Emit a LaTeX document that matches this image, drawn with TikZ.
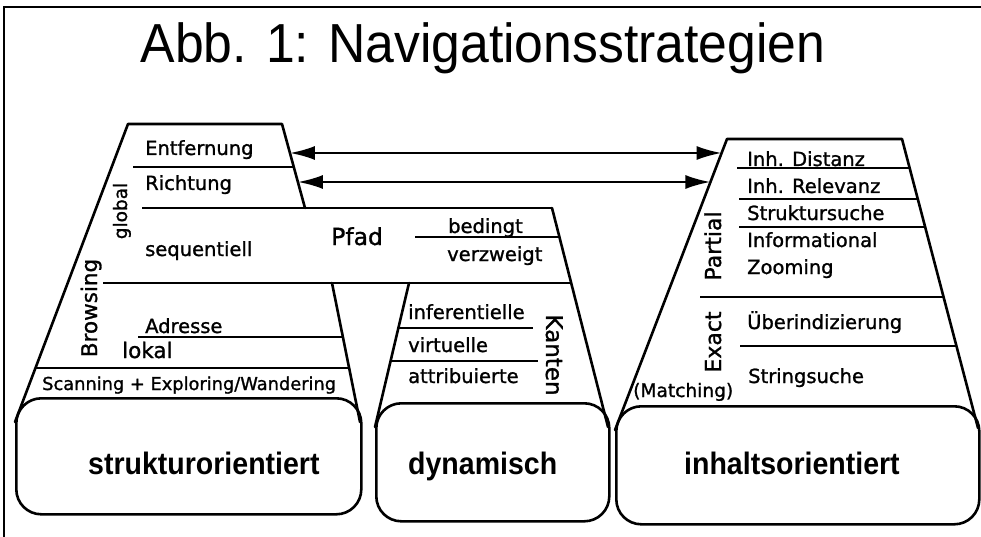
\documentclass[tikz,border=0pt]{standalone}
\usepackage{fontspec}
\setmainfont{DejaVu Sans}[FakeBold=1.2]
\newfontfamily\titlefont{Liberation Sans}[FakeStretch=0.94]
\newfontfamily\boxfont{Liberation Sans}[FakeStretch=0.92]
\usetikzlibrary{arrows.meta}
\tikzset{
  outline/.style={line width=2.6pt, line join=round, line cap=round},
  sepline/.style={line width=2.2pt},
  lab/.style={inner sep=0pt, anchor=base west, font=\fontsize{19.5}{20}\selectfont},
  vlab/.style={inner sep=0pt, anchor=base},
  boxnode/.style={draw, line width=2.6pt, rounded corners=25pt, inner sep=0pt, anchor=north west},
  boxlab/.style={inner sep=0pt, anchor=base west, font=\boxfont\bfseries\fontsize{31}{31}\selectfont},
  dblarrow/.style={line width=2.3pt, {Latex[length=25pt,width=14pt]}-{Latex[length=25pt,width=14pt]}}
}
\begin{document}
\begin{tikzpicture}[x=1pt,y=-1pt]
\useasboundingbox (0,0) rectangle (981,537);
% frame
\draw[line width=2pt] (3.5,537) -- (3.5,7) -- (981,7);
% title
\node[inner sep=0pt, anchor=base, font=\titlefont\fontsize{55}{55}\selectfont] (title) at (483,63) {Abb. 1: Navigationsstrategien};

% bottom boxes
\node[boxnode, minimum width=345pt, minimum height=116pt] (boxL) at (15,397) {};
\node[boxnode, minimum width=233pt, minimum height=118pt] (boxM) at (375,402) {};
\node[boxnode, minimum width=363pt, minimum height=118pt] (boxR) at (615,405) {};
\node[boxlab] (tL) at (88,474) {strukturorientiert};
\node[boxlab] (tM) at (408,474) {dynamisch};
\node[boxlab] (tR) at (684,474) {inhaltsorientiert};

% left trapezoid
\draw[outline] (305,208) -- (282,124) -- (128,124) -- (15,422);
\draw[outline] (332,283) -- (360,422);
\draw[sepline] (133,167) -- (293.8,167);
\draw[sepline] (142,208) -- (552,208);
\draw[sepline] (103,283) -- (571.2,283);
\draw[sepline] (138,337) -- (342.9,337);
\draw[sepline] (35.5,368) -- (349.1,368);

% middle trapezoid
\draw[outline] (409,283) -- (375,427);
\draw[outline] (552,208) -- (608,427);
\draw[sepline] (415,237) -- (559.4,237);
\draw[sepline] (398,328) -- (533,328);
\draw[sepline] (390.4,361) -- (538,361);

% right trapezoid
\draw[outline] (615,430) -- (727,139) -- (902,139) -- (978,428);
\draw[sepline] (737,168) -- (909.6,168);
\draw[sepline] (739,199) -- (917.8,199);
\draw[sepline] (739,227) -- (925.1,227);
\draw[sepline] (700,297) -- (943.6,297);
\draw[sepline] (740,346) -- (956.4,346);

% left labels
\node[lab] (lEnt) at (145,155) {Entfernung};
\node[lab] (lRich) at (145,190) {Richtung};
\node[lab] (lSeq) at (145,256) {sequentiell};
\node[lab, font=\fontsize{23.5}{24}\selectfont] (lPfad) at (331,245) {Pfad};
\node[lab] (lBed) at (448,233) {bedingt};
\node[lab] (lVerz) at (447,261) {verzweigt};
\node[lab] (lInf) at (408,319) {inferentielle};
\node[lab] (lVirt) at (408,352) {virtuelle};
\node[lab] (lAttr) at (408,383) {attribuierte};
\node[lab] (lAdr) at (145,333) {Adresse};
\node[lab, font=\fontsize{21.5}{22}\selectfont] (lLok) at (122,358) {lokal};
\node[lab, font=\fontsize{17.8}{18}\selectfont] (lScan) at (42,390) {Scanning + Exploring/Wandering};
\node[vlab, rotate=90, font=\fontsize{21.5}{22}\selectfont] (lBrow) at (97,308) {Browsing};
\node[vlab, rotate=90, font=\fontsize{18.5}{19}\selectfont] (lGlob) at (127,211) {global};
\node[vlab, rotate=-90, font=\fontsize{23}{23}\selectfont] (lKant) at (546,355) {Kanten};

% right labels
\node[lab] (rDist) at (747,166) {Inh. Distanz};
\node[lab] (rRel) at (747,193) {Inh. Relevanz};
\node[lab] (rStr) at (747,220) {Struktursuche};
\node[lab] (rInf) at (747,247) {Informational};
\node[lab] (rZoom) at (747,274) {Zooming};
\node[lab] (rUeb) at (747,329) {Überindizierung};
\node[lab] (rStr2) at (748,383) {Stringsuche};
\node[lab, font=\fontsize{18.6}{19}\selectfont] (rMatch) at (633,397) {(Matching)};
\node[vlab, rotate=90, font=\fontsize{22}{22}\selectfont] (rPart) at (721,246) {Partial};
\node[vlab, rotate=90, font=\fontsize{22}{22}\selectfont] (rExact) at (721,342) {Exact};

% arrows between the trapezoids
\coordinate (eL1) at (289.9,153);
\coordinate (eR1) at (721.6,153);
\coordinate (eL2) at (297.9,182);
\coordinate (eR2) at (710.4,182);
\draw[dblarrow] (eL1) -- (eR1);
\draw[dblarrow] (eL2) -- (eR2);
\end{tikzpicture}
\end{document}
